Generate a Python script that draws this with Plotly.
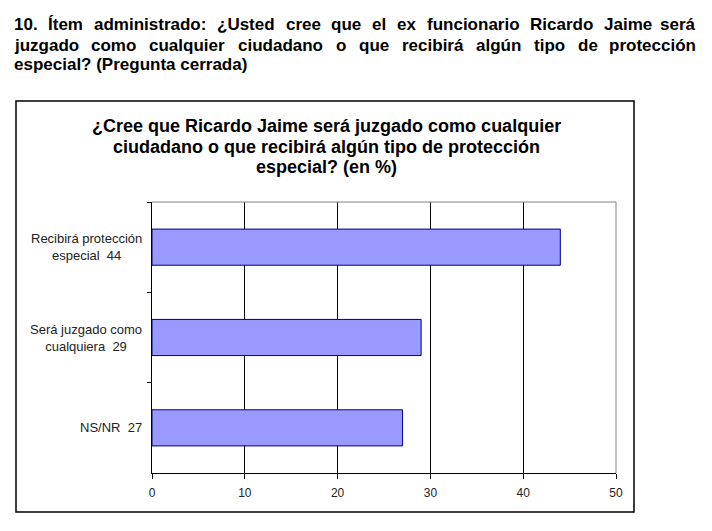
import plotly.graph_objects as go

# datos del grafico (en %)
categorias = ["Recibirá protección especial", "Será juzgado como cualquiera", "NS/NR"]
etiquetas = ["Recibirá protección<br>especial  44", "Será juzgado como<br>cualquiera  29", "NS/NR  27"]
valores = [44, 29, 27]
ticks_x = [0, 10, 20, 30, 40, 50]

titulo_grafico = ["¿Cree que Ricardo Jaime será juzgado como cualquier",
                  "ciudadano o que recibirá algún tipo de protección",
                  "especial? (en %)"]

encabezado = ["10. Ítem administrado: ¿Usted cree que el ex funcionario Ricardo Jaime será",
              "juzgado como cualquier ciudadano o que recibirá algún tipo de protección",
              "especial? (Pregunta cerrada)"]

W, H = 712, 531
FUENTE = "Liberation Sans, Arial, sans-serif"
TAM_ENC = 17

# anchos aproximados de Arial Bold (milesimas de em) para justificar el encabezado
ANCHOS = {" ": 278, ".": 278, ":": 333, "?": 611, "¿": 611, "(": 333, ")": 333,
          "f": 333, "i": 278, "j": 278, "l": 278, "m": 889, "r": 389, "t": 333, "z": 500,
          "w": 778, "b": 611, "d": 611, "g": 611, "h": 611, "n": 611, "o": 611, "p": 611,
          "q": 611, "u": 611, "ó": 611, "ú": 611, "í": 278, "I": 278, "Í": 278,
          "J": 556, "P": 667, "R": 722, "U": 722}


def ancho(palabra):
    return sum(ANCHOS.get(c, 556) for c in palabra) * TAM_ENC / 1000


def px(x):
    return x / W


def py(y):
    return 1 - y / H


fig = go.Figure()
fig.add_trace(go.Bar(
    x=valores,
    y=categorias,
    orientation="h",
    width=0.4,
    marker=dict(color="#9999ff", line=dict(color="#000080", width=1)),
    hoverinfo="x+y",
))

anotaciones = []
x_izq, x_der = 13, 697
for linea, yy in zip(encabezado[:2], (24, 45)):
    palabras = linea.split(" ")
    hueco = (x_der - x_izq - sum(ancho(p) for p in palabras)) / (len(palabras) - 1)
    xx = x_izq
    for i, p in enumerate(palabras):
        ultima = i == len(palabras) - 1
        anotaciones.append(dict(
            text="<b>" + p + "</b>", x=px(x_der if ultima else xx), y=py(yy),
            xref="paper", yref="paper", xanchor="right" if ultima else "left",
            yanchor="middle", showarrow=False, borderpad=0,
            font=dict(family=FUENTE, size=TAM_ENC, color="black")))
        xx += ancho(p) + hueco
anotaciones.append(dict(
    text="<b>" + encabezado[2] + "</b>", x=px(x_izq), y=py(65), xref="paper", yref="paper",
    xanchor="left", yanchor="middle", showarrow=False, borderpad=0,
    font=dict(family=FUENTE, size=TAM_ENC, color="black")))

for texto, yy in zip(titulo_grafico, (126, 147, 167)):
    anotaciones.append(dict(
        text="<b>" + texto + "</b>", x=px(326), y=py(yy), xref="paper", yref="paper",
        xanchor="center", yanchor="middle", showarrow=False, borderpad=0,
        font=dict(family=FUENTE, size=18, color="black")))

for cat, et in zip(categorias, etiquetas):
    anotaciones.append(dict(
        text=et, x=px(144), y=cat, xref="paper", yref="y",
        xanchor="right", yanchor="middle", align="center", showarrow=False,
        font=dict(family=FUENTE, size=13, color="#222222")))

formas = [
    # marco del grafico
    dict(type="rect", xref="paper", yref="paper",
         x0=px(16), x1=px(634), y0=py(512), y1=py(101),
         line=dict(color="black", width=1.5), fillcolor="rgba(0,0,0,0)", layer="below"),
    # borde superior y derecho del area de trazado
    dict(type="line", xref="x domain", yref="y domain", x0=0, x1=1, y0=1, y1=1,
         line=dict(color="#808080", width=1)),
    dict(type="line", xref="x domain", yref="y domain", x0=1, x1=1, y0=0, y1=1,
         line=dict(color="#808080", width=1)),
]

fig.update_layout(
    width=W, height=H,
    margin=dict(l=0, r=0, t=0, b=0, autoexpand=False),
    paper_bgcolor="white", plot_bgcolor="white",
    showlegend=False,
    annotations=anotaciones,
    shapes=formas,
    xaxis=dict(
        domain=[px(152), px(616)],
        range=[0, 50], tickvals=ticks_x, ticks="outside", ticklen=5,
        tickcolor="black", showline=True, linecolor="black", linewidth=1,
        showgrid=True, gridcolor="black", gridwidth=1, zeroline=False,
        tickfont=dict(family=FUENTE, size=12, color="#222222"),
        ticklabelstandoff=4, automargin=False, fixedrange=True,
    ),
    yaxis=dict(
        domain=[py(473), py(202)],
        categoryorder="array", categoryarray=categorias, autorange="reversed",
        tickson="boundaries", ticks="outside", ticklen=4, tickcolor="black",
        showticklabels=False, showline=True, linecolor="black", linewidth=1,
        showgrid=False, zeroline=False, automargin=False, fixedrange=True,
    ),
)

fig.write_html(
    "out.html",
    config={"displayModeBar": False},
    post_script="document.body.style.margin = '0'; document.body.style.overflow = 'hidden';",
)
